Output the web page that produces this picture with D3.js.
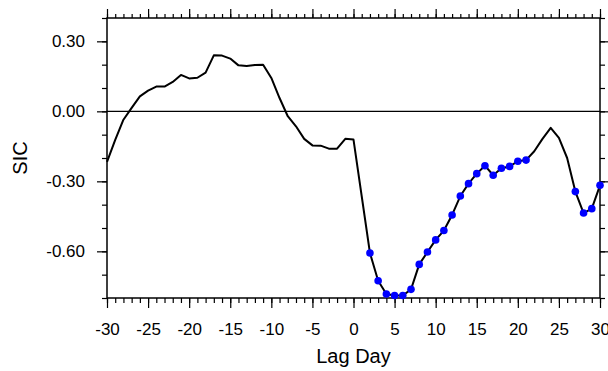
<!DOCTYPE html>
<html>
<head>
<meta charset="utf-8">
<script src="https://cdn.jsdelivr.net/npm/d3@7"></script>
<style>
  body { margin: 0; background: #fff; }
  svg text { font-family: "Liberation Sans", Arial, Helvetica, sans-serif; fill: #000; }
</style>
</head>
<body>
<div id="chart"></div>
<script>
// Lag days and SIC values
const lagDays = d3.range(-30, 31);
const sicValues = [
  -0.217, -0.122, -0.036, 0.015, 0.064, 0.089, 0.106, 0.106, 0.126, 0.156,
  0.141, 0.144, 0.166, 0.240, 0.239, 0.226, 0.197, 0.194, 0.199, 0.200,
  0.143, 0.057, -0.021, -0.064, -0.118, -0.146, -0.147, -0.160, -0.160, -0.118,
  -0.121, -0.364, -0.607, -0.726, -0.783, -0.789, -0.789, -0.763, -0.656, -0.603,
  -0.551, -0.511, -0.444, -0.363, -0.310, -0.267, -0.233, -0.274, -0.244, -0.236,
  -0.214, -0.209, -0.171, -0.118, -0.071, -0.114, -0.200, -0.344, -0.436, -0.417,
  -0.317
];
// days marked with a blue dot
const markedDays = d3.range(2, 22).concat([27, 28, 29, 30]);

const xMajorTicks = d3.range(-30, 31, 5);
const xMinorTicks = d3.range(-30, 31, 1);
const yMajorTicks = [0.3, 0, -0.3, -0.6];
const yMinorTicks = [0.4, 0.3, 0.2, 0.1, 0, -0.1, -0.2, -0.3, -0.4, -0.5, -0.6, -0.7, -0.8];

const width = 608, height = 371;
const margin = {top: 18, right: 8, bottom: 73, left: 107};
const plotW = width - margin.left - margin.right;
const plotH = height - margin.top - margin.bottom;

const svg = d3.select("#chart")
    .append("svg")
    .attr("width", width)
    .attr("height", height)
    .attr("viewBox", [0, 0, width, height]);

const x = d3.scaleLinear([-30, 30], [0, plotW]);
const y = d3.scaleLinear([-0.8, 0.4], [plotH, 0]);

const g = svg.append("g").attr("transform", `translate(${margin.left},${margin.top})`);

// zero reference line
g.append("line")
    .attr("x1", 0).attr("x2", plotW)
    .attr("y1", y(0)).attr("y2", y(0))
    .attr("stroke", "#000")
    .attr("stroke-width", 1.3);

// axes: minor ticks first, then major ticks with labels
function styleAxis(sel) {
  sel.select(".domain").remove();
  sel.selectAll("line").attr("stroke", "#000").attr("stroke-width", 1.2);
  sel.selectAll("text").style("font-size", "17px");
}

g.append("g").attr("transform", `translate(0,${plotH})`)
    .call(d3.axisBottom(x).tickValues(xMinorTicks).tickSize(5).tickFormat(""))
    .call(styleAxis);
g.append("g").attr("transform", `translate(0,${plotH})`)
    .call(d3.axisBottom(x).tickValues(xMajorTicks).tickSize(10).tickPadding(15).tickFormat(d3.format("d")))
    .call(styleAxis)
    .call(a => a.selectAll("text").text(d => d < 0 ? "-" + Math.abs(d) : d));

g.append("g")
    .call(d3.axisTop(x).tickValues(xMinorTicks).tickSize(4).tickFormat(""))
    .call(styleAxis);
g.append("g")
    .call(d3.axisTop(x).tickValues(xMajorTicks).tickSize(9).tickFormat(""))
    .call(styleAxis);

g.append("g")
    .call(d3.axisLeft(y).tickValues(yMinorTicks).tickSize(5).tickFormat(""))
    .call(styleAxis);
g.append("g")
    .call(d3.axisLeft(y).tickValues(yMajorTicks).tickSize(10).tickPadding(12)
      .tickFormat(d => (d < 0 ? "-" : "") + Math.abs(d).toFixed(2)))
    .call(styleAxis);

g.append("g").attr("transform", `translate(${plotW},0)`)
    .call(d3.axisRight(y).tickValues(yMinorTicks).tickSize(5).tickFormat(""))
    .call(styleAxis);
g.append("g").attr("transform", `translate(${plotW},0)`)
    .call(d3.axisRight(y).tickValues(yMajorTicks).tickSize(10).tickFormat(""))
    .call(styleAxis);

// frame
g.append("rect")
    .attr("width", plotW)
    .attr("height", plotH)
    .attr("fill", "none")
    .attr("stroke", "#000")
    .attr("stroke-width", 1.5);

// the curve
const line = d3.line()
    .x((d, i) => x(lagDays[i]))
    .y(d => y(d));

g.append("path")
    .datum(sicValues)
    .attr("fill", "none")
    .attr("stroke", "#000")
    .attr("stroke-width", 2)
    .attr("stroke-linejoin", "round")
    .attr("d", line);

// dots
g.append("g")
    .selectAll("circle")
    .data(markedDays)
    .join("circle")
    .attr("cx", d => x(d))
    .attr("cy", d => y(sicValues[lagDays.indexOf(d)]))
    .attr("r", 3.8)
    .attr("fill", "#0000ff");

// axis titles
svg.append("text")
    .attr("x", margin.left + plotW / 2)
    .attr("y", 363)
    .attr("text-anchor", "middle")
    .style("font-size", "20px")
    .text("Lag Day");

svg.append("text")
    .attr("transform", `translate(27,${margin.top + plotH / 2}) rotate(-90)`)
    .attr("text-anchor", "middle")
    .style("font-size", "20px")
    .text("SIC");
</script>
</body>
</html>
